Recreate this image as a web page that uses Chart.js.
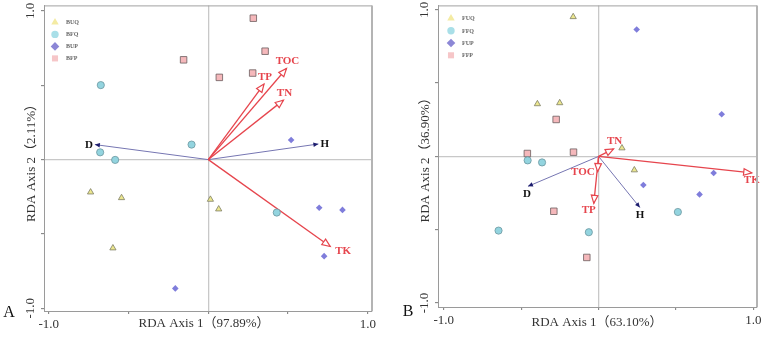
<!DOCTYPE html>
<html><head><meta charset="utf-8">
<script src="https://cdn.jsdelivr.net/npm/chart.js@4.4.1/dist/chart.umd.min.js"></script>
<style>
html,body{margin:0;padding:0;background:#fff;}
#wrap{position:relative;width:767px;height:341px;overflow:hidden;background:#fff;}
#wrap canvas{position:absolute;top:0;}
</style></head><body>
<div id="wrap">
<canvas id="cA" width="384" height="341" style="left:0;width:384px;height:341px"></canvas>
<canvas id="cB" width="383" height="341" style="left:384px;width:383px;height:341px"></canvas>
</div>
<script>
// ---------------- DATA ----------------
const tickValues = [-1, -0.5, 0, 0.5, 1];
const tickLabels = ['-1.0', '', '', '', '1.0'];

const envNames = ['TOC', 'TP', 'TN', 'TK', 'D', 'H'];
// Panel A (environment arrows)
const envA_x = [0.490, 0.349, 0.471, 0.764, -0.711, 0.690];
const envA_y = [0.613, 0.508, 0.400, -0.584, 0.101, 0.105];
// Panel B
const envB_x = [-0.006, -0.031, 0.097, 0.989, -0.456, 0.267];
const envB_y = [-0.104, -0.320, 0.051, -0.112, -0.204, -0.349];

const groupsA = ['BUQ', 'BFQ', 'BUP', 'BFP'];
const groupsB = ['FUQ', 'FFQ', 'FUP', 'FFP'];

// Panel A samples
const A_BUQ_x = [-0.738, -0.544, 0.013, 0.065, -0.598];
const A_BUQ_y = [-0.219, -0.257, -0.268, -0.333, -0.595];
const A_BFQ_x = [-0.674, -0.105, -0.678, -0.584, 0.429];
const A_BFQ_y = [0.501, 0.101, 0.049, -0.002, -0.356];
const A_BUP_x = [0.519, 0.695, 0.841, 0.726, -0.207];
const A_BUP_y = [0.132, -0.324, -0.338, -0.649, -0.866];
const A_BFP_x = [0.282, 0.356, -0.155, 0.278, 0.069];
const A_BFP_y = [0.951, 0.729, 0.671, 0.582, 0.553];

// Panel B samples
const B_FUQ_x = [-0.164, -0.395, -0.251, 0.151, 0.231];
const B_FUQ_y = [0.952, 0.358, 0.365, 0.057, -0.093];
const B_FFQ_x = [-0.458, -0.365, -0.646, -0.063, 0.512];
const B_FFQ_y = [-0.027, -0.041, -0.506, -0.517, -0.379];
const B_FUP_x = [0.246, 0.795, 0.743, 0.289, 0.652];
const B_FUP_y = [0.866, 0.288, -0.113, -0.195, -0.259];
const B_FFP_x = [-0.274, -0.460, -0.162, -0.289, -0.076];
const B_FFP_y = [0.252, 0.020, 0.029, -0.374, -0.689];

// ---------------- STYLE ----------------
const SERIF = "'Liberation Serif','Times New Roman','Noto Sans CJK SC',serif";
const pStyle = ['triangle', 'circle', 'rectRot', 'rect'];
const pFill = ['#ece78e', '#93d4df', '#7f7ddb', '#f5b8bb'];
const pBorder = ['#7e7e66', '#6c979f', '#7f7ddb', '#6b5d5e'];
const pRadius = [3.6, 3.6, 3.3, 4.6];
const legFill = ['#f4eba3', '#a9dfe8', '#8c87d6', '#f6c6c8'];
const legRadius = [4.3, 3.7, 4.3, 4.3];
const RED = '#e6454d', NAVY = '#1d1d6e', BLUE_LINE = '#7676b2';
const envIsSoil = [true, true, true, true, false, false];

function buildDatasets(groups, xs, ys, ex, ey) {
  const ds = groups.map((g, i) => ({
    label: g,
    data: xs[i].map((x, j) => ({ x: x, y: ys[i][j] })),
    pointStyle: pStyle[i], pointRadius: pRadius[i],
    pointBackgroundColor: pFill[i], pointBorderColor: pBorder[i],
    pointBorderWidth: i === 2 ? 0 : 0.8, showLine: false
  }));
  envNames.forEach((n, k) => {
    ds.push({
      label: n, rdaArrow: true, soil: envIsSoil[k],
      data: [{ x: 0, y: 0 }, { x: ex[k], y: ey[k] }],
      showLine: true, borderColor: envIsSoil[k] ? RED : BLUE_LINE,
      borderWidth: envIsSoil[k] ? 1.3 : 1, pointRadius: 0, fill: false
    });
  });
  return ds;
}

function shape(ctx, style, x, y, r) {
  ctx.beginPath();
  if (style === 'circle') ctx.arc(x, y, r, 0, Math.PI * 2);
  else if (style === 'triangle') { ctx.moveTo(x, y - r); ctx.lineTo(x + r * 0.866, y + r * 0.5); ctx.lineTo(x - r * 0.866, y + r * 0.5); ctx.closePath(); }
  else if (style === 'rectRot') { ctx.moveTo(x, y - r); ctx.lineTo(x + r, y); ctx.lineTo(x, y + r); ctx.lineTo(x - r, y); ctx.closePath(); }
  else { const s = r * 0.7071; ctx.rect(x - s, y - s, 2 * s, 2 * s); }
  ctx.fill();
}

const decor = {
  id: 'rdaDecor',
  afterDatasetsDraw(chart, args, o) {
    const ctx = chart.ctx;
    chart.data.datasets.forEach((d, i) => {
      if (!d.rdaArrow) return;
      const meta = chart.getDatasetMeta(i);
      const p0 = meta.data[0], p1 = meta.data[1];
      const dx = p1.x - p0.x, dy = p1.y - p0.y, L = Math.hypot(dx, dy) || 1;
      const ux = dx / L, uy = dy / L, nx = -uy, ny = ux;
      ctx.save();
      if (d.soil) {
        const len = 8, hw = 3.3;
        const bx = p1.x - ux * len, by = p1.y - uy * len;
        ctx.beginPath();
        ctx.moveTo(p1.x, p1.y); ctx.lineTo(bx + nx * hw, by + ny * hw); ctx.lineTo(bx - nx * hw, by - ny * hw); ctx.closePath();
        ctx.fillStyle = '#fff'; ctx.fill();
        ctx.strokeStyle = RED; ctx.lineWidth = 1.2; ctx.stroke();
      } else {
        const len = 5, hw = 2.2;
        const bx = p1.x - ux * len, by = p1.y - uy * len;
        ctx.beginPath();
        ctx.moveTo(p1.x, p1.y); ctx.lineTo(bx + nx * hw, by + ny * hw); ctx.lineTo(bx - nx * hw, by - ny * hw); ctx.closePath();
        ctx.fillStyle = NAVY; ctx.fill();
      }
      const lp = o.labelPos[d.label];
      ctx.font = 'bold 11px ' + SERIF;
      ctx.fillStyle = d.soil ? RED : '#111';
      ctx.textAlign = lp[2]; ctx.textBaseline = 'middle';
      ctx.fillText(d.label, p1.x + lp[0], p1.y + lp[1]);
      ctx.restore();
    });
  },
  afterDraw(chart, args, o) {
    const ctx = chart.ctx, ca = chart.chartArea;
    ctx.save();
    // frame top / right
    ctx.strokeStyle = '#a2a2a2'; ctx.lineWidth = 1;
    ctx.beginPath(); ctx.moveTo(ca.left, ca.top + 0.5); ctx.lineTo(ca.right, ca.top + 0.5); ctx.stroke();
    ctx.strokeStyle = '#b4b4b4'; ctx.lineWidth = 2;
    ctx.beginPath(); ctx.moveTo(ca.right, ca.top); ctx.lineTo(ca.right, ca.bottom); ctx.stroke();
    // legend
    o.groups.forEach((g, i) => {
      const lx = ca.left + o.legend[0], ly = ca.top + o.legend[1] + i * o.legend[2];
      ctx.fillStyle = legFill[i];
      shape(ctx, pStyle[i], lx, ly, legRadius[i]);
      ctx.fillStyle = '#666'; ctx.font = 'bold 6px ' + SERIF;
      ctx.textAlign = 'left'; ctx.textBaseline = 'middle';
      ctx.fillText(g, lx + 11, ly + 0.5);
    });
    // axis titles
    ctx.fillStyle = '#333'; ctx.font = '13px ' + SERIF;
    ctx.textAlign = 'center'; ctx.textBaseline = 'middle';
    ctx.fillText(o.xTitle, o.xTitlePos[0], o.xTitlePos[1]);
    ctx.save();
    ctx.translate(o.yTitlePos[0], o.yTitlePos[1]); ctx.rotate(-Math.PI / 2);
    ctx.fillText(o.yTitle, 0, 0);
    ctx.restore();
    // panel letter
    ctx.font = '16px ' + SERIF; ctx.fillStyle = '#111';
    ctx.fillText(o.letter, o.letterPos[0], o.letterPos[1]);
    ctx.restore();
  }
};

function makeChart(id, ds, cfg) {
  return new Chart(document.getElementById(id), {
    type: 'scatter',
    data: { datasets: ds },
    options: {
      responsive: false, animation: false, devicePixelRatio: 1,
      layout: { padding: { left: 0, top: cfg.top, right: cfg.right, bottom: 0 } },
      plugins: { legend: { display: false }, tooltip: { enabled: false }, rdaDecor: cfg.decor },
      scales: {
        x: {
          type: 'linear', min: cfg.xmin, max: cfg.xmax,
          afterBuildTicks: s => { s.ticks = tickValues.map(v => ({ value: v })); },
          afterFit: s => { s.height = cfg.xh; s.paddingLeft = 0; s.paddingRight = 0; },
          ticks: { autoSkip: false, maxRotation: 0, padding: 3, color: '#333', font: { family: SERIF, size: 13 },
                   callback: v => tickLabels[tickValues.indexOf(v)] },
          grid: { color: c => (c.tick && c.tick.value === 0) ? '#c8c8c8' : 'rgba(0,0,0,0)', lineWidth: 1.3,
                  drawTicks: true, tickLength: 3, tickColor: '#777', tickWidth: 1 },
          border: { display: true, color: '#9a9a9a', width: 1 }
        },
        y: {
          type: 'linear', min: cfg.ymin, max: cfg.ymax,
          afterBuildTicks: s => { s.ticks = tickValues.map(v => ({ value: v })); },
          afterFit: s => { s.width = cfg.yw; s.paddingTop = 0; s.paddingBottom = 0; },
          ticks: { autoSkip: false, minRotation: 90, maxRotation: 90, crossAlign: 'center', padding: 0,
                   color: '#333', font: { family: SERIF, size: 13 },
                   callback: v => tickLabels[tickValues.indexOf(v)] },
          grid: { color: c => (c.tick && c.tick.value === 0) ? '#c8c8c8' : 'rgba(0,0,0,0)', lineWidth: 1.3,
                  drawTicks: true, tickLength: 3, tickColor: '#777', tickWidth: 1 },
          border: { display: true, color: '#9a9a9a', width: 1 }
        }
      }
    },
    plugins: [decor]
  });
}

makeChart('cA',
  buildDatasets(groupsA, [A_BUQ_x, A_BFQ_x, A_BUP_x, A_BFP_x], [A_BUQ_y, A_BFQ_y, A_BUP_y, A_BFP_y], envA_x, envA_y),
  { top: 4, right: 12, xh: 30, yw: 44, xmin: -1.03, xmax: 1.026, ymin: -1.018, ymax: 1.037,
    decor: { groups: groupsA, legend: [11, 17, 12],
      labelPos: { TOC: [1, -7.5, 'center'], TP: [1, -7, 'center'], TN: [1, -7, 'center'], TK: [5, 5, 'left'], D: [-2, 0.5, 'right'], H: [2, 0.5, 'left'] },
      xTitle: 'RDA Axis 1（97.89%）', xTitlePos: [204, 324], yTitle: 'RDA Axis 2（2.11%）', yTitlePos: [32, 160],
      letter: 'A', letterPos: [9, 313] } });

makeChart('cB',
  buildDatasets(groupsB, [B_FUQ_x, B_FFQ_x, B_FUP_x, B_FFP_x], [B_FUQ_y, B_FFQ_y, B_FUP_y, B_FFP_y], envB_x, envB_y),
  { top: 5, right: 10, xh: 34, yw: 54, xmin: -1.037, xmax: 1.023, ymin: -1.027, ymax: 1.03,
    decor: { groups: groupsB, legend: [13, 13, 12.3],
      labelPos: { TOC: [-3, 0, 'right'], TP: [-5, 7, 'center'], TN: [1, -8, 'center'], TK: [0, 7, 'center'], D: [-1, 7.5, 'center'], H: [0, 7.5, 'center'] },
      xTitle: 'RDA Axis 1（63.10%）', xTitlePos: [213, 323], yTitle: 'RDA Axis 2（36.90%）', yTitlePos: [42, 157],
      letter: 'B', letterPos: [24, 312] } });
</script>
</body></html>
